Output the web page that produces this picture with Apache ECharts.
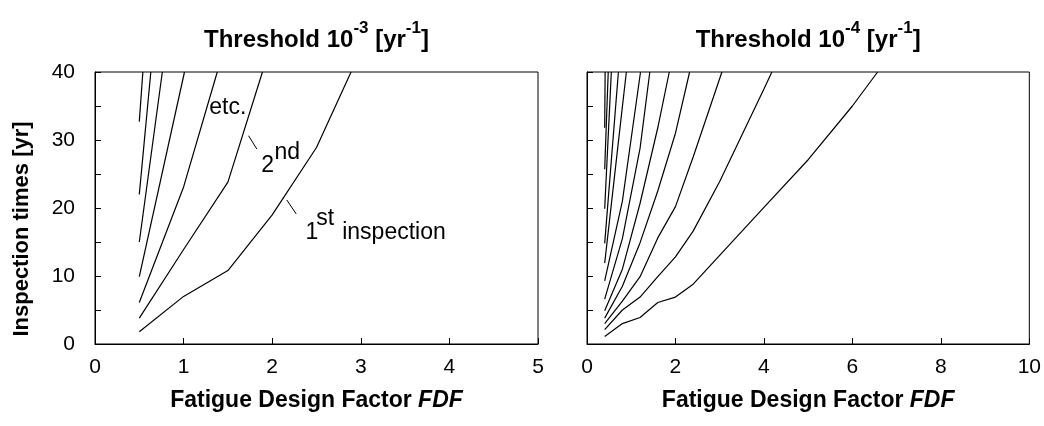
<!DOCTYPE html>
<html>
<head>
<meta charset="utf-8">
<script src="https://cdn.jsdelivr.net/npm/echarts@6/dist/echarts.min.js"></script>
<style>
  html, body { margin: 0; background: #fff; }
  #chart { width: 1044px; height: 426px; }
</style>
</head>
<body>
<div id="chart"></div>
<script>
const FONT = '"Liberation Sans", Arial, Helvetica, sans-serif';

// Threshold 1e-3: [FDF, inspection time in yr], 1st inspection first
const lowThreshold = [
  [[0.5, 1.8], [1, 7.0], [1.5, 10.8], [2, 19.0], [2.5, 28.9], [2.89, 40]],
  [[0.5, 3.8], [1, 13.9], [1.5, 23.8], [1.89, 40]],
  [[0.5, 6.1], [1, 23.1], [1.38, 40]],
  [[0.5, 9.9], [1.01, 40]],
  [[0.5, 15.0], [0.76, 40]],
  [[0.5, 22.0], [0.63, 40]],
  [[0.5, 32.7], [0.54, 40]],
];

// Threshold 1e-4
const highThreshold = [
  [[0.4, 1.1], [0.8, 3.0], [1.2, 3.9], [1.6, 6.1], [2.0, 6.9], [2.4, 8.8], [4.0, 20.1], [5.0, 27.1], [6.0, 35.0], [6.57, 40]],
  [[0.4, 2.1], [0.8, 5.0], [1.2, 6.9], [1.6, 9.9], [2.0, 12.8], [2.4, 16.6], [3.0, 23.9], [4.0, 37.5], [4.18, 40]],
  [[0.4, 3.0], [0.8, 6.3], [1.2, 9.9], [1.6, 15.6], [2.0, 20.2], [2.4, 27.5], [3.05, 40]],
  [[0.4, 3.8], [0.8, 8.5], [1.2, 14.9], [1.6, 22.5], [2.0, 31.0], [2.32, 40]],
  [[0.4, 4.9], [0.8, 11.0], [1.2, 20.7], [1.6, 31.8], [1.86, 40]],
  [[0.4, 6.6], [0.8, 15.5], [1.2, 28.8], [1.42, 40]],
  [[0.4, 9.3], [0.8, 21.0], [1.21, 40]],
  [[0.4, 11.9], [0.8, 34.9], [0.89, 40]],
  [[0.4, 14.8], [0.71, 40]],
  [[0.4, 19.9], [0.55, 40]],
  [[0.4, 25.7], [0.48, 40]],
  [[0.4, 31.8], [0.41, 40]],
];

const xMax = [5, 10];
const xStep = [1, 2];
const yMax = 40;
const yStep = 5;
const yLabelStep = 10;

const titles = [
  '{b|Threshold 10}{s|-3}{b| [yr}{s|-1}{b|]}',
  '{b|Threshold 10}{s|-4}{b| [yr}{s|-1}{b|]}',
];
const xName = 'Fatigue Design Factor {i|FDF}';
const yName = 'Inspection times [yr]';

const chart = echarts.init(document.getElementById('chart'));

const grids = [
  { left: 95, top: 72, width: 443, height: 272 },
  { left: 587, top: 72, width: 443, height: 272 },
];

const xAxes = grids.map((g, i) => ({
  type: 'value',
  gridIndex: i,
  min: 0,
  max: xMax[i],
  interval: xStep[i],
  name: xName,
  nameLocation: 'middle',
  nameGap: 45,
  nameTextStyle: {
    fontFamily: FONT, fontSize: 23, fontWeight: 'bold', color: '#000',
    rich: { i: { fontFamily: FONT, fontSize: 23, fontWeight: 'bold', fontStyle: 'italic', color: '#000' } },
  },
  axisLine: { lineStyle: { color: '#000', width: 1 } },
  axisTick: { inside: true, length: 6, lineStyle: { color: '#000' } },
  axisLabel: { fontFamily: FONT, fontSize: 21, color: '#000', margin: 13 },
  splitLine: { show: false },
}));

const yAxes = grids.map((g, i) => ({
  type: 'value',
  gridIndex: i,
  min: 0,
  max: yMax,
  interval: yStep,
  axisLine: { lineStyle: { color: '#000', width: 1 } },
  axisTick: { inside: true, length: 6, lineStyle: { color: '#000' } },
  axisLabel: {
    show: i === 0,
    fontFamily: FONT, fontSize: 21, color: '#000', margin: 20,
    formatter: (v) => (v % yLabelStep === 0 ? String(v) : ''),
  },
  splitLine: { show: false },
}));

const makeSeries = (runs, idx) => runs.map((pts) => ({
  type: 'line',
  xAxisIndex: idx,
  yAxisIndex: idx,
  data: pts,
  symbol: 'none',
  clip: true,
  silent: true,
  lineStyle: { color: '#000', width: 1.2 },
}));

chart.setOption({
  animation: false,
  backgroundColor: '#fff',
  grid: grids.map((g) => ({ ...g, show: true, borderColor: '#000', borderWidth: 1, backgroundColor: 'transparent' })),
  xAxis: xAxes,
  yAxis: yAxes,
  series: [...makeSeries(lowThreshold, 0), ...makeSeries(highThreshold, 1)],
});

// annotations placed in data coordinates of the left panel
const px = (gi, x, y) => chart.convertToPixel({ gridIndex: gi }, [x, y]);
const ANN = 23;
const label = (text, x, y) => {
  const p = px(0, x, y);
  return {
    type: 'text', x: p[0], y: p[1] - ANN * 0.33,
    style: { text, fontFamily: FONT, fontSize: ANN, fill: '#000', align: 'left', verticalAlign: 'middle' },
  };
};
const leader = (x1, y1, x2, y2) => {
  const a = px(0, x1, y1);
  const b = px(0, x2, y2);
  return { type: 'line', shape: { x1: a[0], y1: a[1], x2: b[0], y2: b[1] }, style: { stroke: '#000', lineWidth: 1 } };
};

const titleEls = titles.map((t, i) => ({
  type: 'text',
  x: px(i, xMax[i] / 2, yMax)[0],
  y: 36,
  style: {
    text: t, align: 'center', verticalAlign: 'middle',
    rich: {
      b: { fontFamily: FONT, fontSize: 24, fontWeight: 'bold', fill: '#000', verticalAlign: 'bottom', lineHeight: 32 },
      s: { fontFamily: FONT, fontSize: 17, fontWeight: 'bold', fill: '#000', verticalAlign: 'top', lineHeight: 17 },
    },
  },
}));

chart.setOption({
  graphic: [
    ...titleEls,
    {
      type: 'text', x: 22, y: 229, rotation: Math.PI / 2,
      style: { text: yName, fontFamily: FONT, fontSize: 22, fontWeight: 'bold', fill: '#000', align: 'center', verticalAlign: 'middle' },
    },
    label('etc.', 1.29, 33.57),
    leader(1.733, 30.63, 1.826, 28.68),
    label('2', 1.876, 25.1),
    label('nd', 2.026, 27.06),
    leader(2.165, 21.18, 2.271, 19.12),
    label('1', 2.376, 15.29),
    label('st', 2.497, 17.25),
    label('inspection', 2.79, 15.29),
  ],
});
</script>
</body>
</html>
